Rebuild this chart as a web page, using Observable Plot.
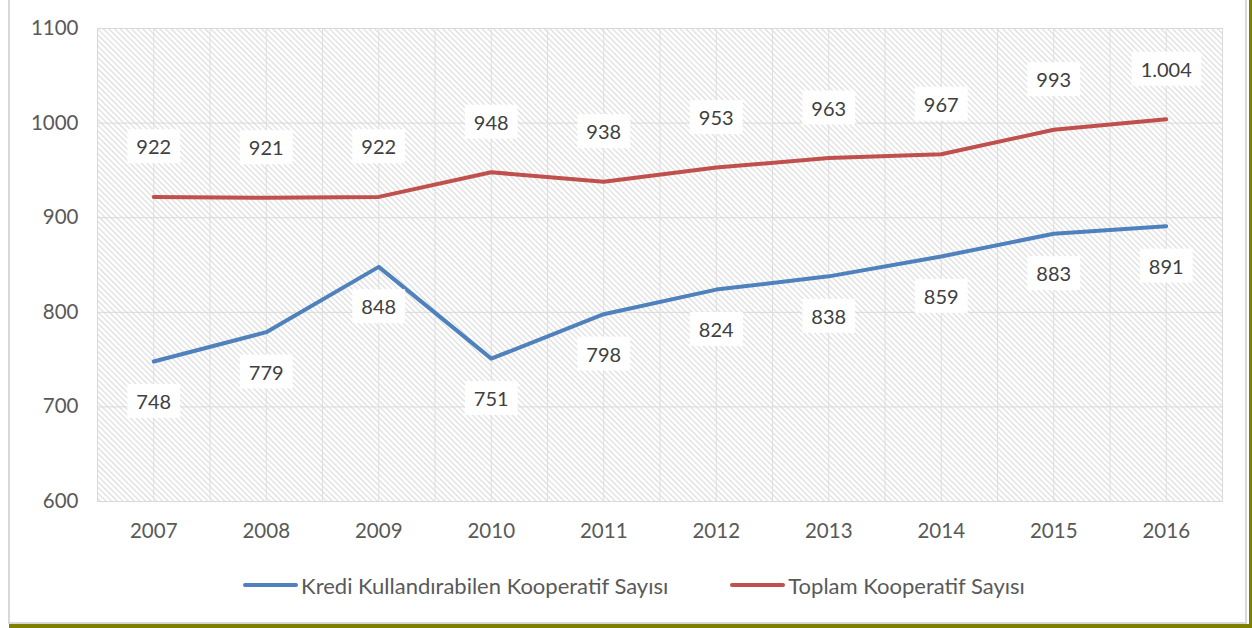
<!DOCTYPE html>
<html><head><meta charset="utf-8">
<script src="https://cdn.jsdelivr.net/npm/d3@7"></script>
<script src="https://cdn.jsdelivr.net/npm/@observablehq/plot@0.6"></script>
<style>
body{margin:0;background:#fff;font-family:Lato,"Open Sans",sans-serif}
#page{position:relative;width:1252px;height:628px;overflow:hidden;background:#fff}
#frame{position:absolute;left:8px;top:-2px;width:1239px;height:626px;border:2px solid #d9d9d9;box-sizing:border-box}
#oliveR{position:absolute;left:1249px;top:0;width:3px;height:628px;background:#7f7f00}
#oliveB{position:absolute;left:9px;top:624px;width:1243px;height:4px;background:#7f7f00}
#chart{position:absolute;left:0;top:0}
#legend{position:absolute;left:0;top:555px;width:1252px;height:60px;display:flex;justify-content:center;align-items:center;gap:62px;padding-left:16px;box-sizing:border-box}
.item{display:flex;align-items:center;color:#595959;font-size:22px}
.sw{display:inline-block;width:55px;height:4px;border-radius:2px;margin-right:3px}
</style>
</head><body>
<div id="page">
  <div id="frame"></div>
  <div id="chart"></div>
  <div id="legend"></div>
  <div id="oliveR"></div>
  <div id="oliveB"></div>
</div>
<script>
const years = [2007, 2008, 2009, 2010, 2011, 2012, 2013, 2014, 2015, 2016];
const kredi = [748, 779, 848, 751, 798, 824, 838, 859, 883, 891];
const toplam = [922, 921, 922, 948, 938, 953, 963, 967, 993, 1004];
const yTicks = [600, 700, 800, 900, 1000, 1100];
const seriesNames = ["Kredi Kullandırabilen Kooperatif Sayısı", "Toplam Kooperatif Sayısı"];
const colors = ["#4F81BD", "#C0504D"];

const fmt = d3.formatLocale({decimal: ",", thousands: ".", grouping: [3], currency: ["", ""]}).format(",");

const rowsK = years.map((y, i) => ({year: y, value: kredi[i], series: seriesNames[0]}));
const rowsT = years.map((y, i) => ({year: y, value: toplam[i], series: seriesNames[1]}));
const rows = rowsK.concat(rowsT);
const halfTicks = years.flatMap(y => [y, y + 0.5]).filter(v => v < 2016.5);

const font = "Lato, 'Open Sans', sans-serif";
const plot = Plot.plot({
  width: 1252, height: 555,
  marginLeft: 97, marginRight: 30, marginTop: 28, marginBottom: 54,
  x: {type: "linear", domain: [2006.5, 2016.5], axis: null},
  y: {domain: [600, 1100], axis: null},
  color: {domain: seriesNames, range: colors},
  style: {fontFamily: font, background: "transparent"},
  marks: [
    Plot.frame({fill: "url(#hatch)", stroke: "none"}),
    Plot.gridY(yTicks.slice(1, -1), {stroke: "#d9d9d9", strokeOpacity: 1, strokeWidth: 1}),
    Plot.gridX(halfTicks, {stroke: "#dedede", strokeOpacity: 1, strokeWidth: 1}),
    Plot.frame({stroke: "#d9d9d9", strokeWidth: 1}),
    Plot.axisY(yTicks, {tickSize: 0, tickPadding: 19, fontSize: 20.5, fill: "#595959", tickFormat: d => String(d), label: null}),
    Plot.axisX(years, {tickSize: 0, tickPadding: 22, fontSize: 20.5, fill: "#595959", tickFormat: d => String(d), label: null}),
    Plot.line(rows, {x: "year", y: "value", z: "series", stroke: "series", strokeWidth: 4, strokeLinecap: "round", strokeLinejoin: "round"}),
    Plot.text(rowsK, {x: "year", y: "value", text: d => fmt(d.value), dy: 41, fontSize: 20, fill: "#404040"}),
    Plot.text(rowsT, {x: "year", y: "value", text: d => fmt(d.value), dy: -49, fontSize: 20, fill: "#404040"})
  ]
});
document.getElementById("chart").appendChild(plot);

const ns = "http://www.w3.org/2000/svg";
const defs = document.createElementNS(ns, "defs");
defs.innerHTML = '<pattern id="hatch" patternUnits="userSpaceOnUse" width="4" height="4" patternTransform="rotate(-45)"><rect width="4" height="4" fill="#ffffff"/><line x1="0.6" y1="0" x2="0.6" y2="4" stroke="#dadada" stroke-width="1.1"/></pattern>';
plot.insertBefore(defs, plot.firstChild);

plot.querySelectorAll('g[aria-label="text"] text').forEach(t => {
  const b = t.getBBox();
  const r = document.createElementNS(ns, "rect");
  r.setAttribute("x", b.x - 9);
  r.setAttribute("y", b.y - 5);
  r.setAttribute("width", b.width + 18);
  r.setAttribute("height", b.height + 10);
  r.setAttribute("fill", "#ffffff");
  r.setAttribute("stroke", "none");
  if (t.getAttribute("transform")) r.setAttribute("transform", t.getAttribute("transform"));
  t.parentNode.insertBefore(r, t);
});

const legend = document.getElementById("legend");
seriesNames.forEach((n, i) => {
  const it = document.createElement("div");
  it.className = "item";
  const sw = document.createElement("span");
  sw.className = "sw";
  sw.style.background = colors[i];
  const tx = document.createElement("span");
  tx.textContent = n;
  it.appendChild(sw); it.appendChild(tx);
  legend.appendChild(it);
});
</script>
</body></html>
